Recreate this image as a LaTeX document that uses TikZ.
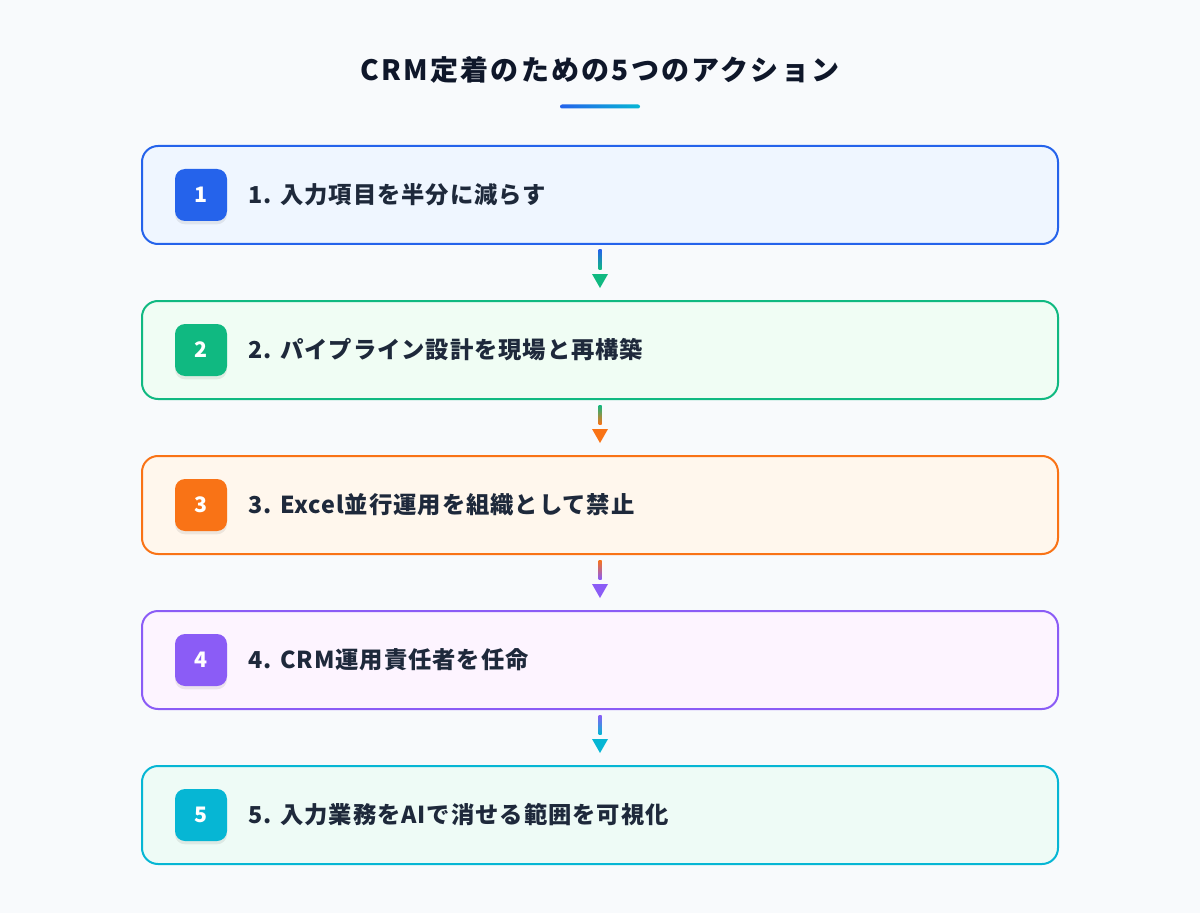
\documentclass[tikz,border=0pt]{standalone}
\usepackage{fontspec}
\setmainfont{Noto Sans CJK JP}
\newfontfamily\jpspaced{Noto Sans CJK JP}[LetterSpace=4]
\newfontfamily\jptitle{Noto Sans CJK JP}[LetterSpace=8]
\usetikzlibrary{arrows.meta, positioning, calc}

\definecolor{bgcol}{HTML}{F8FAFC}
\definecolor{ink}{HTML}{1E293B}
\definecolor{titleink}{HTML}{0F172A}
\definecolor{cone}{HTML}{2563EB}
\definecolor{fone}{HTML}{EFF6FF}
\definecolor{ctwo}{HTML}{10B981}
\definecolor{ftwo}{HTML}{F0FDF4}
\definecolor{cthree}{HTML}{F97316}
\definecolor{fthree}{HTML}{FFF7ED}
\definecolor{cfour}{HTML}{8B5CF6}
\definecolor{ffour}{HTML}{FDF4FF}
\definecolor{cfive}{HTML}{06B6D4}
\definecolor{ffive}{HTML}{EEFBF6}

\begin{document}
\begin{tikzpicture}[x=0.75pt,y=0.75pt,yscale=-1,xscale=1,
  actbox/.style={draw, line width=1.5pt, rounded corners=12pt, minimum width=687pt, minimum height=73.5pt, inner sep=0pt},
  badge/.style={rounded corners=7.5pt, minimum size=39pt, inner sep=0pt, text=white, font=\bfseries\fontsize{16}{18}\selectfont,
    preaction={fill=black, fill opacity=0.07, transform canvas={yshift=-2.5pt}}},
  acttext/.style={anchor=west, inner sep=0pt, text=ink, font=\jpspaced\bfseries\fontsize{17.5}{21}\selectfont}]

%background, sets the page size
\fill[bgcol] (0,0) rectangle (1200,913);

% Title
\node[text=titleink, font=\jptitle\bfseries\fontsize{21}{25}\selectfont] (title) at (600,70) {CRM定着のための5つのアクション};
\shade[left color=cone, right color=cfive, rounded corners=1.5pt] (560,104.5) rectangle (640,108.5);

% Action boxes
\foreach \n/\bc/\fc/\txt in {1/cone/fone/{1. 入力項目を半分に減らす},
  2/ctwo/ftwo/{2. パイプライン設計を現場と再構築},
  3/cthree/fthree/{3. Excel並行運用を組織として禁止},
  4/cfour/ffour/{4. CRM運用責任者を任命},
  5/cfive/ffive/{5. 入力業務をAIで消せる範囲を可視化}}{
  \node[actbox, draw=\bc, fill=\fc] (box\n) at (600,{195+155*(\n-1)}) {};
  \node[badge, fill=\bc] (num\n) at (201,{195+155*(\n-1)}) {\n};
  \node[acttext, right=15.75pt of num\n] (txt\n) {\txt};
}

% Connectors
\foreach \a/\b/\ca/\cb in {1/2/cone/ctwo, 2/3/ctwo/cthree, 3/4/cthree/cfour, 4/5/cfour/cfive}{
  \shade[top color=\ca, bottom color=\cb] ($(box\a.south)+(-1.5,5)$) rectangle ($(box\a.south)+(1.5,24)$);
  \fill[\cb] ($(box\b.north)+(-8,-26)$) -- ($(box\b.north)+(8,-26)$) -- ($(box\b.north)+(0,-12)$) -- cycle;
}

\end{tikzpicture}
\end{document}
